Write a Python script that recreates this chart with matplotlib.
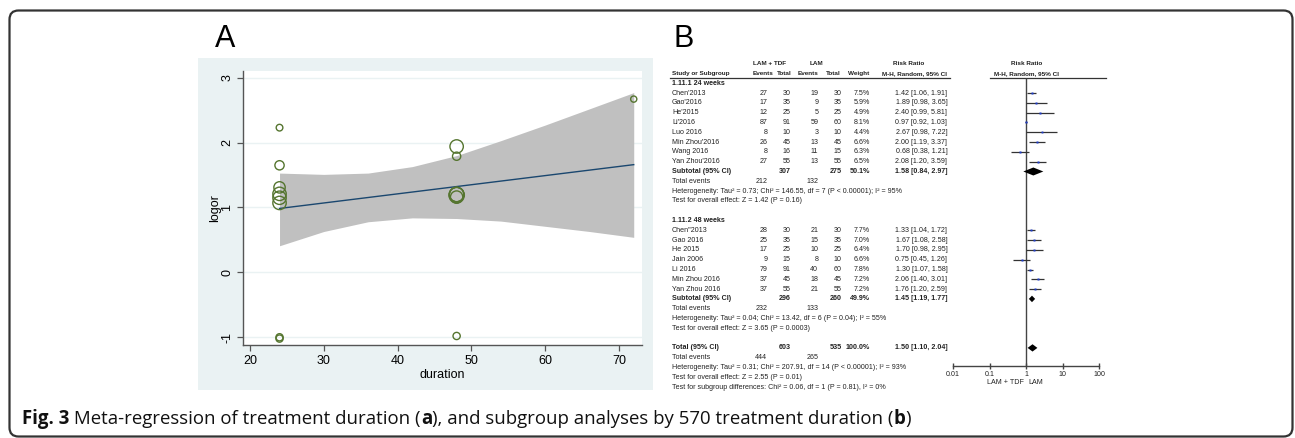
import matplotlib

matplotlib.use("Agg")
import matplotlib.pyplot as plt  # noqa: E402
from matplotlib.patches import FancyBboxPatch, Rectangle  # noqa: E402
from matplotlib.ticker import NullLocator  # noqa: E402

plt.rcParams["axes.unicode_minus"] = False

W, H = 1295, 438

# ---- panel A: meta-regression ----
duration = [24, 24, 24, 24, 24, 24, 24, 24, 48, 48, 48, 48, 48, 48, 48, 72]
logor = [1.65, 1.07, 1.31, -1.00, 2.23, 1.21, -1.02, 1.15,
         1.79, 1.20, 1.16, -0.98, 1.19, 1.94, 1.20, 2.67]
study_wt = [81, 169, 121, 49, 42, 169, 49, 169,
            64, 196, 144, 49, 225, 169, 196, 36]
fit_x = [24, 72]
fit_y = [0.985, 1.66]
band_x = [24, 30, 36, 42, 48, 54, 60, 66, 72]
band_hi = [1.53, 1.51, 1.53, 1.63, 1.80, 2.03, 2.27, 2.52, 2.77]
band_lo = [0.41, 0.63, 0.78, 0.84, 0.83, 0.79, 0.71, 0.63, 0.54]

# ---- panel B: forest plot ----
names_24 = ["Chen'2013", "Gao'2016", "He'2015", "Li'2016", "Luo 2016",
            "Min Zhou'2016", "Wang 2016", "Yan Zhou'2016"]
ev1_24 = [27, 17, 12, 87, 8, 26, 8, 27]
tot1_24 = [30, 35, 25, 91, 10, 45, 16, 55]
ev2_24 = [19, 9, 5, 59, 3, 13, 11, 13]
tot2_24 = [30, 35, 25, 60, 10, 45, 15, 55]
wt_24 = [7.5, 5.9, 4.9, 8.1, 4.4, 6.6, 6.3, 6.5]
rr_24 = [1.42, 1.89, 2.40, 0.97, 2.67, 2.00, 0.68, 2.08]
lo_24 = [1.06, 0.98, 0.99, 0.92, 0.98, 1.19, 0.38, 1.20]
hi_24 = [1.91, 3.65, 5.81, 1.03, 7.22, 3.37, 1.21, 3.59]

names_48 = ['Chen"2013', "Gao 2016", "He 2015", "Jain 2006", "Li 2016",
            "Min Zhou 2016", "Yan Zhou 2016"]
ev1_48 = [28, 25, 17, 9, 79, 37, 37]
tot1_48 = [30, 35, 25, 15, 91, 45, 55]
ev2_48 = [21, 15, 10, 8, 40, 18, 21]
tot2_48 = [30, 35, 25, 10, 60, 45, 55]
wt_48 = [7.7, 7.0, 6.4, 6.6, 7.8, 7.2, 7.2]
rr_48 = [1.33, 1.67, 1.70, 0.75, 1.30, 2.06, 1.76]
lo_48 = [1.04, 1.08, 0.98, 0.45, 1.07, 1.40, 1.20]
hi_48 = [1.72, 2.58, 2.95, 1.26, 1.58, 3.01, 2.59]

# subtotal / total rows: tot1, tot2, weight, rr, lo, hi, events1, events2
sub_24 = [307, 275, 50.1, 1.58, 0.84, 2.97, 212, 132]
sub_48 = [296, 260, 49.9, 1.45, 1.19, 1.77, 232, 133]
overall = [603, 535, 100.0, 1.50, 1.10, 2.04, 444, 265]

het_24 = "Heterogeneity: Tau\u00b2 = 0.73; Chi\u00b2 = 146.55, df = 7 (P < 0.00001); I\u00b2 = 95%"
eff_24 = "Test for overall effect: Z = 1.42 (P = 0.16)"
het_48 = "Heterogeneity: Tau\u00b2 = 0.04; Chi\u00b2 = 13.42, df = 6 (P = 0.04); I\u00b2 = 55%"
eff_48 = "Test for overall effect: Z = 3.65 (P = 0.0003)"
het_all = "Heterogeneity: Tau\u00b2 = 0.31; Chi\u00b2 = 207.91, df = 14 (P < 0.00001); I\u00b2 = 93%"
eff_all = "Test for overall effect: Z = 2.55 (P = 0.01)"
sub_diff = "Test for subgroup differences: Chi\u00b2 = 0.06, df = 1 (P = 0.81), I\u00b2 = 0%"

rr_ticks = [0.01, 0.1, 1, 10, 100]
rr_tick_labels = ["0.01", "0.1", "1", "10", "100"]

STATA_BG = "#eaf2f3"
GREEN = "#55752f"
NAVY = "#1a476f"
BAND = "#c0c0c0"
INK = "#222222"
SANS = ["Liberation Sans", "DejaVu Sans"]

fig = plt.figure(figsize=(W / 100, H / 100), dpi=100)
bg = fig.add_axes([0, 0, 1, 1])
bg.set_xlim(0, W)
bg.set_ylim(H, 0)
bg.axis("off")

# rounded frame round the whole figure
bg.add_patch(FancyBboxPatch((9.5, 10.5), 1283, 426,
                            boxstyle="round,pad=0,rounding_size=9",
                            fc="white", ec="#333333", lw=1.6))

bg.text(215, 39, "A", fontsize=22, family=SANS, ha="left", va="center")
bg.text(673, 39, "B", fontsize=22, family=SANS, ha="left", va="center")

# ---------------- panel A ----------------
bg.add_patch(Rectangle((198, 58), 455, 332, fc=STATA_BG, ec="none"))
axA = fig.add_axes([243 / W, 1 - 345 / H, (642 - 243) / W, (345 - 71) / H])
axA.set_facecolor("white")
axA.fill_between(band_x, band_lo, band_hi, color=BAND, lw=0, zorder=1)
axA.plot(fit_x, fit_y, color=NAVY, lw=1.0, zorder=2)
axA.scatter(duration, logor, s=[w * 0.55 for w in study_wt],
            facecolors="none", edgecolors=GREEN, linewidths=1.0, zorder=3)
axA.set_xlim(19.05, 73.12)
axA.set_ylim(-1.119, 3.103)
axA.set_xticks([20, 30, 40, 50, 60, 70])
axA.set_yticks([-1, 0, 1, 2, 3])
axA.grid(axis="y", color=STATA_BG, lw=1.0)
axA.grid(axis="x", visible=False)
axA.set_axisbelow(True)
for s in ["top", "right"]:
    axA.spines[s].set_visible(False)
for s in ["left", "bottom"]:
    axA.spines[s].set_color("#555555")
    axA.spines[s].set_linewidth(1.0)
axA.tick_params(length=4, width=0.9, color="#555555", labelsize=9, pad=3)
for lbl in axA.get_yticklabels():
    lbl.set_rotation(90)
    lbl.set_va("center")
for lbl in axA.get_xticklabels() + axA.get_yticklabels():
    lbl.set_family(SANS)
axA.set_xlabel("duration", fontsize=9, family=SANS, labelpad=2)
axA.set_ylabel("logor", fontsize=9, family=SANS, labelpad=0)

# ---------------- panel B table ----------------
FS = 5.1
HFS = 4.6
label_x = 672
col_r = {"e1": 767.3, "t1": 790.7, "e2": 818.3, "t2": 841.7, "w": 870, "ci": 947.3}
forest_c = 1026.5


def txt(x, y, s, ha="left", bold=False, size=FS):
    bg.text(x, y, s, fontsize=size, family=SANS, color=INK, ha=ha, va="center",
            fontweight="bold" if bold else "normal")


def ci_text(rr, lo, hi):
    return f"{rr:.2f} [{lo:.2f}, {hi:.2f}]"


# header
txt(769.7, 63.3, "LAM + TDF", ha="center", bold=True, size=HFS)
txt(816, 63.3, "LAM", ha="center", bold=True, size=HFS)
txt(909, 63.3, "Risk Ratio", ha="center", bold=True, size=HFS)
txt(forest_c, 63.3, "Risk Ratio", ha="center", bold=True, size=HFS)
txt(label_x, 73.3, "Study or Subgroup", bold=True, size=HFS)
txt(763, 73.3, "Events", ha="center", bold=True, size=HFS)
txt(784, 73.3, "Total", ha="center", bold=True, size=HFS)
txt(808, 73.3, "Events", ha="center", bold=True, size=HFS)
txt(833.5, 73.3, "Total", ha="center", bold=True, size=HFS)
txt(858.5, 73.3, "Weight", ha="center", bold=True, size=HFS)
txt(914, 73.3, "M-H, Random, 95% CI", ha="center", bold=True, size=HFS)
txt(forest_c, 73.3, "M-H, Random, 95% CI", ha="center", bold=True, size=HFS)
header_line = 77.6
bg.plot([670, 950], [header_line, header_line], color="#333333", lw=0.9)
bg.plot([990, 1106], [header_line, header_line], color="#333333", lw=0.9)

# forest axes, y in figure pixels
fx0, fx1 = 953.2, 1099
ax_top, ax_bot = 60, 365.7
axF = fig.add_axes([fx0 / W, 1 - ax_bot / H, (fx1 - fx0) / W, (ax_bot - ax_top) / H])
axF.set_xscale("log")
axF.set_xlim(0.01, 100)
axF.set_ylim(ax_bot, ax_top)
axF.patch.set_alpha(0)
for s in ["top", "right", "left"]:
    axF.spines[s].set_visible(False)
axF.spines["bottom"].set_color("#444444")
axF.spines["bottom"].set_linewidth(1.0)
axF.set_xticks(rr_ticks)
axF.set_xticklabels(rr_tick_labels)
axF.xaxis.set_minor_locator(NullLocator())
axF.set_yticks([])
axF.tick_params(axis="x", direction="inout", length=5, width=1.0,
                color="#444444", labelsize=FS, pad=1.5)
for lbl in axF.get_xticklabels():
    lbl.set_family(SANS)
    lbl.set_color(INK)
axF.vlines(1, header_line, ax_bot, color="#444444", lw=1.0)
txt(1024, 382.7, "LAM + TDF", ha="right")
txt(1028.5, 382.7, "LAM", ha="left")

step = 9.8
y = 83.3


def study_rows(y, names, e1, t1, e2, t2, wt, rr, lo, hi):
    for i, name in enumerate(names):
        txt(label_x, y, name)
        txt(col_r["e1"], y, str(e1[i]), ha="right")
        txt(col_r["t1"], y, str(t1[i]), ha="right")
        txt(col_r["e2"], y, str(e2[i]), ha="right")
        txt(col_r["t2"], y, str(t2[i]), ha="right")
        txt(col_r["w"], y, f"{wt[i]:.1f}%", ha="right")
        txt(col_r["ci"], y, ci_text(rr[i], lo[i], hi[i]), ha="right")
        axF.hlines(y, lo[i], hi[i], color="#333333", lw=0.9, zorder=2)
        axF.plot(rr[i], y, marker="s", ms=wt[i] ** 0.5 * 0.65, color="#1f3cc8",
                 mec="none", zorder=3)
        y += step
    return y


def summary_block(y, label, s, het, eff, dh):
    txt(label_x, y, label, bold=True)
    txt(col_r["t1"], y, str(s[0]), ha="right", bold=True)
    txt(col_r["t2"], y, str(s[1]), ha="right", bold=True)
    txt(col_r["w"], y, f"{s[2]:.1f}%", ha="right", bold=True)
    txt(col_r["ci"], y, ci_text(s[3], s[4], s[5]), ha="right", bold=True)
    axF.fill([s[4], s[3], s[5], s[3]], [y, y - dh / 2, y, y + dh / 2],
             color="black", lw=0, zorder=3)
    y += step
    txt(label_x, y, "Total events")
    txt(col_r["e1"], y, str(s[6]), ha="right")
    txt(col_r["e2"], y, str(s[7]), ha="right")
    y += step
    txt(label_x, y, het)
    y += step
    txt(label_x, y, eff)
    return y + step


txt(label_x, y, "1.11.1 24 weeks", bold=True)
y = study_rows(y + step, names_24, ev1_24, tot1_24, ev2_24, tot2_24,
               wt_24, rr_24, lo_24, hi_24)
y = summary_block(y, "Subtotal (95% CI)", sub_24, het_24, eff_24, 8)
y += step
txt(label_x, y, "1.11.2 48 weeks", bold=True)
y = study_rows(y + step, names_48, ev1_48, tot1_48, ev2_48, tot2_48,
               wt_48, rr_48, lo_48, hi_48)
y = summary_block(y, "Subtotal (95% CI)", sub_48, het_48, eff_48, 6.5)
y += step
y = summary_block(y, "Total (95% CI)", overall, het_all, eff_all, 7.3)
txt(label_x, y, sub_diff)

# ---------------- caption ----------------
renderer = fig.canvas.get_renderer()
cap_runs = [("Fig. 3", "bold"), (" Meta-regression of treatment duration (", "normal"),
            ("a", "bold"), ("), and subgroup analyses by 570 treatment duration (", "normal"),
            ("b", "bold"), (")", "normal")]
cx = 22
for s, w in cap_runs:
    t = bg.text(cx, 419, s, fontsize=13.4, family=["Open Sans", "DejaVu Sans"],
                fontweight=w, color="#111111", ha="left", va="center")
    cx += t.get_window_extent(renderer=renderer).width

fig.savefig("out.png", dpi=100)
